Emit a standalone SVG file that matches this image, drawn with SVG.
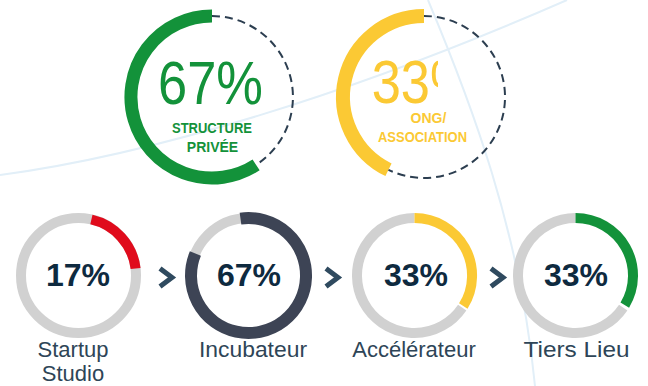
<svg xmlns="http://www.w3.org/2000/svg" width="648" height="386" viewBox="0 0 648 386">
<defs>
<style>
.bg{fill:none;stroke:#e2eff8;stroke-width:2}
.dash{fill:none;stroke:#2c3e50;stroke-width:2;stroke-dasharray:8 5}
.ring{fill:none;stroke:#d1d1d1;stroke-width:10}
.big{font-family:"Liberation Sans",Arial,sans-serif;font-size:62px}
.sub{font-family:"Liberation Sans",Arial,sans-serif;font-size:14px;font-weight:bold;text-anchor:middle}
.pct{font-family:"Liberation Sans",Arial,sans-serif;font-size:32px;font-weight:bold;fill:#0e2a3f;text-anchor:middle}
.lbl{font-family:"Liberation Sans",Arial,sans-serif;font-size:22px;fill:#2e4557;text-anchor:middle}
.chev{fill:none;stroke:#2f4a5f;stroke-width:5;stroke-linejoin:miter;stroke-linecap:butt}
</style>
<clipPath id="clip33"><rect x="360" y="40" width="78" height="70"/></clipPath>
</defs>
<rect width="648" height="386" fill="#ffffff"/>
<g id="background">
<path class="bg" d="M0,175 C150,155 350,95 567,0"/>
<path class="bg" d="M428,0 C470,100 520,230 535,386"/>
</g>
<g id="node-prive">
<path d="M212,16 A81,81 0 1 0 256.1,164.9" fill="none" stroke="#13923a" stroke-width="13"/>
<path class="dash" d="M212,16 A81,81 0 0 1 256.1,164.9"/>
<text class="big" x="158" y="104" fill="#13923a" textLength="105" lengthAdjust="spacingAndGlyphs">67%</text>
<text class="sub" x="212" y="133" fill="#13923a" textLength="80" lengthAdjust="spacingAndGlyphs">STRUCTURE</text>
<text class="sub" x="212.5" y="151.5" fill="#13923a">PRIVÉE</text>
</g>
<g id="node-ong">
<path d="M424,16 A81,81 0 0 0 388.5,169.8" fill="none" stroke="#fbc934" stroke-width="14"/>
<path class="dash" d="M424,16 A81,81 0 1 1 388.5,169.8"/>
<text class="big" x="371.7" y="103" fill="#fbc934" textLength="105" lengthAdjust="spacingAndGlyphs" clip-path="url(#clip33)">33%</text>
<text class="sub" x="428.5" y="123" fill="#fbc934">ONG/</text>
<text class="sub" x="422.5" y="141.5" fill="#fbc934" textLength="89" lengthAdjust="spacingAndGlyphs">ASSOCIATION</text>
</g>
<g id="node-startup">
<circle class="ring" cx="78.5" cy="275.5" r="57.5"/>
<path d="M91.4,219.5 A57.5,57.5 0 0 1 135.6,268.5" fill="none" stroke="#e00b1c" stroke-width="10"/>
<text class="pct" x="78" y="286">17%</text>
<text class="lbl" x="73" y="357">Startup</text>
<text class="lbl" x="73" y="381">Studio</text>
</g>
<g id="node-incubateur">
<circle class="ring" cx="248.5" cy="275.5" r="57.5"/>
<path d="M240.5,218.6 A57.5,57.5 0 1 1 195.4,253.5" fill="none" stroke="#3d4455" stroke-width="12"/>
<text class="pct" x="249" y="286">67%</text>
<text class="lbl" x="253" y="357" textLength="108" lengthAdjust="spacingAndGlyphs">Incubateur</text>
</g>
<g id="node-accelerateur">
<path class="ring" d="M462.2,307.6 A57.5,57.5 0 1 1 414.5,218"/>
<path d="M414.5,218 A57.5,57.5 0 0 1 463.3,306" fill="none" stroke="#fbc934" stroke-width="10"/>
<text class="pct" x="416" y="286">33%</text>
<text class="lbl" x="414" y="357">Accélérateur</text>
</g>
<g id="node-tiers">
<path class="ring" d="M623.2,307.6 A57.5,57.5 0 1 1 575.5,218"/>
<path d="M575.5,218 A57.5,57.5 0 0 1 624.8,305.1" fill="none" stroke="#13923a" stroke-width="10"/>
<text class="pct" x="576" y="286">33%</text>
<text class="lbl" x="576.5" y="357" textLength="106" lengthAdjust="spacingAndGlyphs">Tiers Lieu</text>
</g>
<g id="connectors">
<path class="chev" d="M160,268.5 L172,277.5 L160,286.5"/>
<path class="chev" d="M326,268.5 L338,277.5 L326,286.5"/>
<path class="chev" d="M491,268.5 L503,277.5 L491,286.5"/>
</g>
</svg>
